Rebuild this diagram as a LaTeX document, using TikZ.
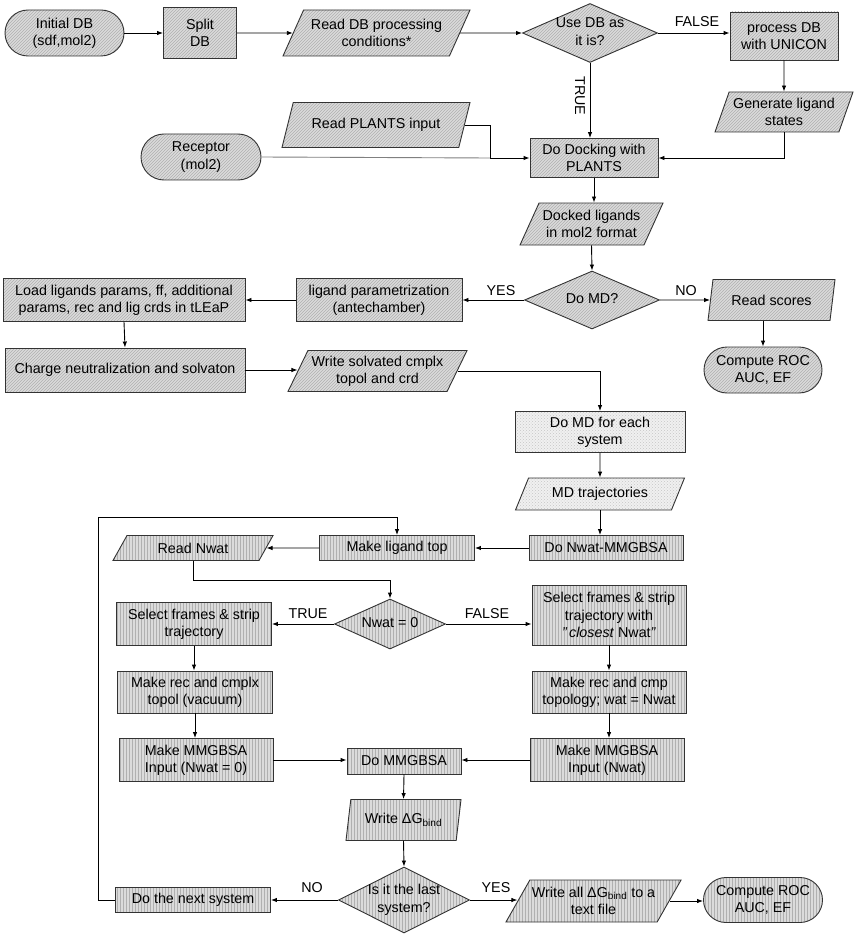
\documentclass[tikz,border=0pt]{standalone}
\usepackage{fontspec}
\setmainfont{Liberation Sans}
\usetikzlibrary{shapes.geometric,shapes.misc,arrows.meta,patterns,calc}
\newcommand{\mydtext}[1]{\makebox[0pt]{\begin{tabular}{@{}c@{}}#1\end{tabular}}}
\begin{document}
\begin{tikzpicture}[x=1pt,y=-1pt,
  font=\fontsize{14.3}{17.2}\selectfont,
  base/.style={draw=black!80, line width=0.9pt, align=center, inner sep=2pt},
  hatchA/.style={preaction={fill=gray!28}, pattern=north east lines, pattern color=gray!62},
  hatchB/.style={preaction={fill=gray!28}, pattern=vertical lines, pattern color=gray!62},
  hatchC/.style={preaction={fill=gray!12}, pattern=crosshatch dots, pattern color=gray!45},
  box/.style={base, rectangle},
  term/.style={base, rounded rectangle},
  dec/.style={base, diamond, inner sep=0pt},
  io/.style 2 args={base, trapezium, trapezium left angle=#1, trapezium right angle=#2, trapezium stretches body},
  arr/.style={-{Latex[length=6pt,width=4.5pt]}, line width=0.9pt, black},
  lab/.style={inner sep=1pt}
]
\useasboundingbox (0,0) rectangle (856,936);

% ---------- top part ----------
\node[term, minimum width=123, minimum height=46, hatchA] (init) at (64.5,33) {Initial DB\\(sdf,mol2)};
\node[box, minimum width=73, minimum height=51, hatchA] (split) at (200,33) {Split\\DB};
\node[io={57}{123}, minimum width=187, minimum height=46, hatchA] (readdb) at (376.5,33) {Read DB processing\\conditions*};
\node[dec, minimum width=135, minimum height=59, hatchA] (usedb) at (590,33) {\mydtext{Use DB as\\it is?}};
\node[box, minimum width=108, minimum height=48, hatchA] (unicon) at (784,36) {process DB\\with UNICON};
\node[io={66}{114}, minimum width=138, minimum height=40, hatchA] (genlig) at (784,112) {Generate ligand\\states};
\node[box, minimum width=128, minimum height=39, hatchA] (dock) at (594,158) {Do Docking with\\PLANTS};
\node[io={57}{123}, minimum width=188, minimum height=45, hatchA] (plants) at (376,125) {Read PLANTS input};
\node[term, minimum width=124, minimum height=46, hatchA] (receptor) at (201,157) {Receptor\\(mol2)};
\node[io={59}{121}, minimum width=143, minimum height=42, hatchA] (docked) at (591.5,224) {Docked ligands\\in mol2 format};
\node[dec, minimum width=135, minimum height=58, hatchA] (domd) at (592,300) {\mydtext{Do MD?}};
\node[io={71}{109}, minimum width=127, minimum height=41, hatchA] (scores) at (771.5,300) {Read scores};
\node[term, minimum width=122, minimum height=46, hatchA] (roca) at (763,370) {Compute ROC\\AUC, EF};
\node[box, minimum width=166, minimum height=43, hatchA] (ligpar) at (379,300) {ligand parametrization\\(antechamber)};
\node[box, minimum width=242, minimum height=43, hatchA] (load) at (124,300) {Load ligands params, ff, additional\\params, rec and lig crds in tLEaP};
\node[box, minimum width=240, minimum height=44, hatchA] (charge) at (125,370) {Charge neutralization and solvaton};
\node[io={60}{120}, minimum width=179, minimum height=41, hatchA] (wsolv) at (377.5,371) {Write solvated cmplx\\topol and crd};
\node[box, minimum width=170, minimum height=41, hatchC] (mdeach) at (600,432) {Do MD for each\\system};
\node[io={53}{127}, minimum width=169, minimum height=32, hatchC] (mdtraj) at (600,494) {MD trajectories};

% ---------- bottom part ----------
\node[box, minimum width=154, minimum height=25, hatchB] (nwatmm) at (606,548) {Do Nwat-MMGBSA};
\node[box, minimum width=155, minimum height=25, hatchB] (makelig) at (397,548) {Make ligand top};
\node[io={46}{134}, minimum width=160, minimum height=25, hatchB] (readnwat) at (193,548) {Read Nwat};
\node[dec, minimum width=111, minimum height=50, hatchB] (nwat0) at (390,624) {\mydtext{Nwat = 0}};
\node[box, minimum width=155, minimum height=43, hatchB] (sela) at (194,624) {Select frames \& strip\\trajectory};
\node[box, minimum width=154, minimum height=60, hatchB] (selb) at (609,615) {Select frames \& strip\\trajectory with\\\textit{"\,closest} Nwat\textit{"}};
\node[box, minimum width=154, minimum height=42, hatchB] (recb) at (609,692) {Make rec and cmp\\topology; wat = Nwat};
\node[box, minimum width=154, minimum height=43, hatchB] (mmb) at (607,760) {Make MMGBSA\\Input (Nwat)};
\node[box, minimum width=155, minimum height=42, hatchB] (reca) at (195,692) {Make rec and cmplx\\topol (vacuum)};
\node[box, minimum width=154, minimum height=43, hatchB] (mma) at (196,760) {Make MMGBSA\\Input (Nwat = 0)};
\node[box, minimum width=114, minimum height=26, hatchB] (dogb) at (404,761) {Do MMGBSA};
\node[io={74}{106}, minimum width=115, minimum height=41, hatchB] (wdg) at (403.5,820) {Write ΔG\textsubscript{bind}};
\node[dec, minimum width=131, minimum height=66, hatchB] (last) at (404,900) {\mydtext{Is it the last\\system?}};
\node[box, minimum width=155, minimum height=25, hatchB] (next) at (193,900) {Do the next system};
\node[io={53}{127}, minimum width=173, minimum height=42, hatchB] (wall) at (593.5,901) {Write all ΔG\textsubscript{bind} to a\\text file};
\node[term, minimum width=123, minimum height=45, hatchB] (rocb) at (763,900) {Compute ROC\\AUC, EF};

% ---------- labels ----------
\node[lab] (lf1) at (697,22) {FALSE};
\node[lab, rotate=-90] (lt1) at (580,96) {TRUE};
\node[lab] (ly1) at (501,291) {YES};
\node[lab] (ln1) at (686,291) {NO};
\node[lab] (lt2) at (308,614) {TRUE};
\node[lab] (lf2) at (487,614) {FALSE};
\node[lab] (ln2) at (312,888) {NO};
\node[lab] (ly2) at (496,888) {YES};

% ---------- connectors ----------
\coordinate (j) at (490,158);
\coordinate (b1) at (390,580);
\coordinate (c1) at (98,517);

\draw[arr] (init.east) -- (split.west);
\draw[arr] (split.east) -- (readdb.west);
\draw[arr] (readdb.east) -- (usedb.west);
\draw[arr] (usedb.east) -- (usedb.east -| unicon.west);
\draw[arr] (unicon.south) -- (genlig.north);
\draw[arr] (usedb.south) -- (usedb.south |- dock.north);
\draw[arr] (genlig.south) |- (dock.east);
\draw[arr] (plants.east) -| (j) -- (dock.west);
\draw[line width=0.9pt, gray] (receptor.east) -- (j);
\draw[arr] (dock.south) -- (dock.south |- docked.north);
\draw[arr] (docked.south) -- (domd.north);
\draw[arr] (domd.west) -- (ligpar.east);
\draw[arr] (domd.east) -- (scores.west);
\draw[arr] (roca.north |- scores.south) -- (roca.north);
\draw[arr] (ligpar.west) -- (load.east);
\draw[arr] (load.south) -- (charge.north);
\draw[arr] (charge.east) -- (charge.east -| wsolv.west);
\draw[arr] (wsolv.east) -| (mdeach.north);
\draw[arr] (mdeach.south) -- (mdtraj.north);
\draw[arr] (mdtraj.south) -- (mdtraj.south |- nwatmm.north);

\draw[arr] (nwatmm.west) -- (makelig.east);
\draw[arr] (makelig.west) -- (readnwat.east);
\draw[arr] (readnwat.south) |- (b1) -- (nwat0.north);
\draw[arr] (nwat0.west) -- (sela.east);
\draw[arr] (nwat0.east) -- (nwat0.east -| selb.west);
\draw[arr] (sela.south) -- (reca.north -| sela.south);
\draw[arr] (reca.south) -- (mma.north -| reca.south);
\draw[arr] (selb.south) -- (recb.north);
\draw[arr] (recb.south) -- (mmb.north -| recb.south);
\draw[arr] (mma.east) -- (mma.east -| dogb.west);
\draw[arr] (mmb.west) -- (mmb.west -| dogb.east);
\draw[arr] (dogb.south) -- (wdg.north);
\draw[arr] (wdg.south) -- (last.north);
\draw[arr] (last.west) -- (next.east);
\draw[arr] (last.east) -- (last.east -| wall.west);
\draw[arr] (wall.east) -- (wall.east -| rocb.west);
\draw[arr] (next.west) -| (c1) -| (makelig.north);
\end{tikzpicture}
\end{document}
